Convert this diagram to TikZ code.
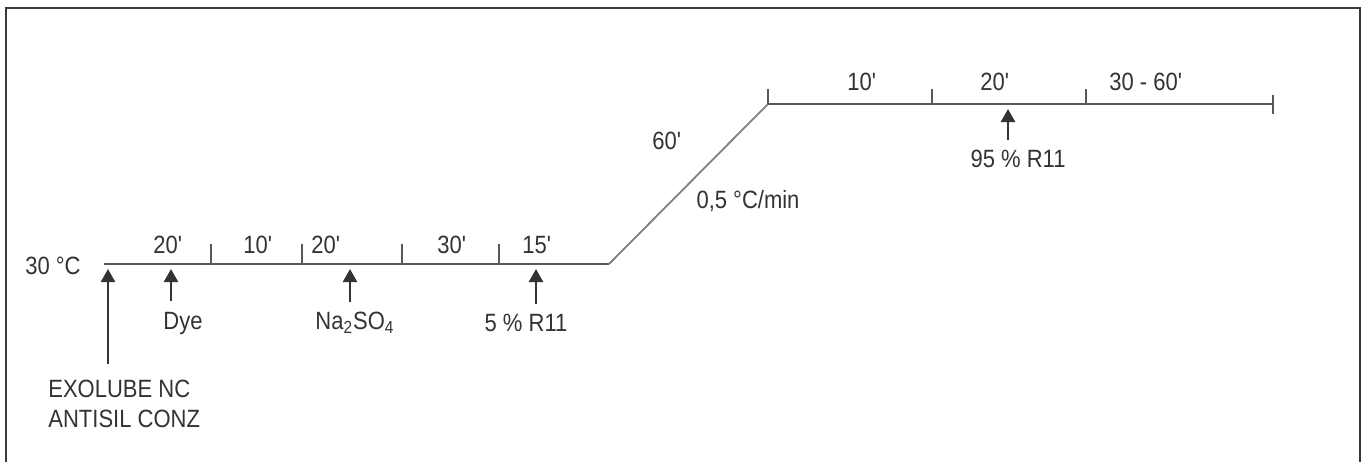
\documentclass[tikz,border=0pt]{standalone}
\usepackage{fontspec}
\setmainfont[FakeStretch=0.88]{Liberation Sans}
\usetikzlibrary{arrows.meta}
\definecolor{ln}{HTML}{55595C}
\definecolor{rp}{HTML}{7C8184}
\definecolor{tx}{HTML}{333333}
\definecolor{fr}{HTML}{3A3A3A}

\begin{document}
\begin{tikzpicture}[x=0.5pt,y=-0.5pt,
  lbl/.style={text=tx,font=\fontsize{12.5}{14}\selectfont,inner sep=0pt},
  axis/.style={ln,line width=1.1pt},
  tick/.style={ln,line width=0.8pt},
  add/.style={tx,line width=1.2pt,shorten <=5pt,-{Triangle[width=7pt,length=6.5pt]}}]
\useasboundingbox (0,0) rectangle (1365,462);
\draw[fr,line width=1.2pt] (6,462) -- (6,8) -- (1360,8) -- (1360,462);
% temperature profile
\coordinate (start) at (104,264);
\coordinate (rampA) at (609,264);
\coordinate (rampB) at (768,104);
\coordinate (stop) at (1273,104);
\draw[axis] (start) -- (rampA);
\draw[rp,line width=0.9pt] (rampA) -- (rampB);
\draw[axis] (rampB) -- (stop);
\foreach \x in {211,302,402,499}
  \draw[tick] (\x,264) -- (\x,244);
\foreach \x in {768,932,1086}
  \draw[tick] (\x,104) -- (\x,89);
\draw[tick] (1273,95) -- (1273,114);
% times
\node[lbl,anchor=east] (temp) at (81,266) {30 °C};
\foreach \x/\t [count=\i] in {168/20, 258/10, 326/20, 452/30, 537/15}
  \node[lbl] (low\i) at (\x,245) {\t\textquotesingle};
\foreach \x/\t [count=\i] in {862/10, 995/20, 1146/30 - 60}
  \node[lbl] (high\i) at (\x,82) {\t\textquotesingle};
\node[lbl] (ramptime) at (667,141) {60\textquotesingle};
\node[lbl] (rate) at (748,201) {0,5 °C/min};
% additions
\coordinate (p0) at (108,269);
\coordinate (p1) at (171,269);
\coordinate (p2) at (350,269);
\coordinate (p3) at (536,269);
\coordinate (p4) at (1008,109);
\node[lbl,anchor=north west] (exo) at (48,380) {EXOLUBE NC};
\node[lbl,anchor=north west] (anti) at (48,410) {ANTISIL CONZ};
\node[lbl] (dye) at (183,323) {Dye};
\node[lbl] (salt) at (355,323) {Na\textsubscript{2}SO\textsubscript{4}};
\node[lbl] (dose1) at (526,323) {5 \% R11};
\node[lbl] (dose2) at (1018,159) {95 \% R11};
\draw[add,shorten <=8pt] (exo.north -| p0) -- (p0);
\draw[add] (dye.north -| p1) -- (p1);
\draw[add] (salt.north -| p2) -- (p2);
\draw[add] (dose1.north -| p3) -- (p3);
\draw[add] (dose2.north -| p4) -- (p4);
\end{tikzpicture}
\end{document}
